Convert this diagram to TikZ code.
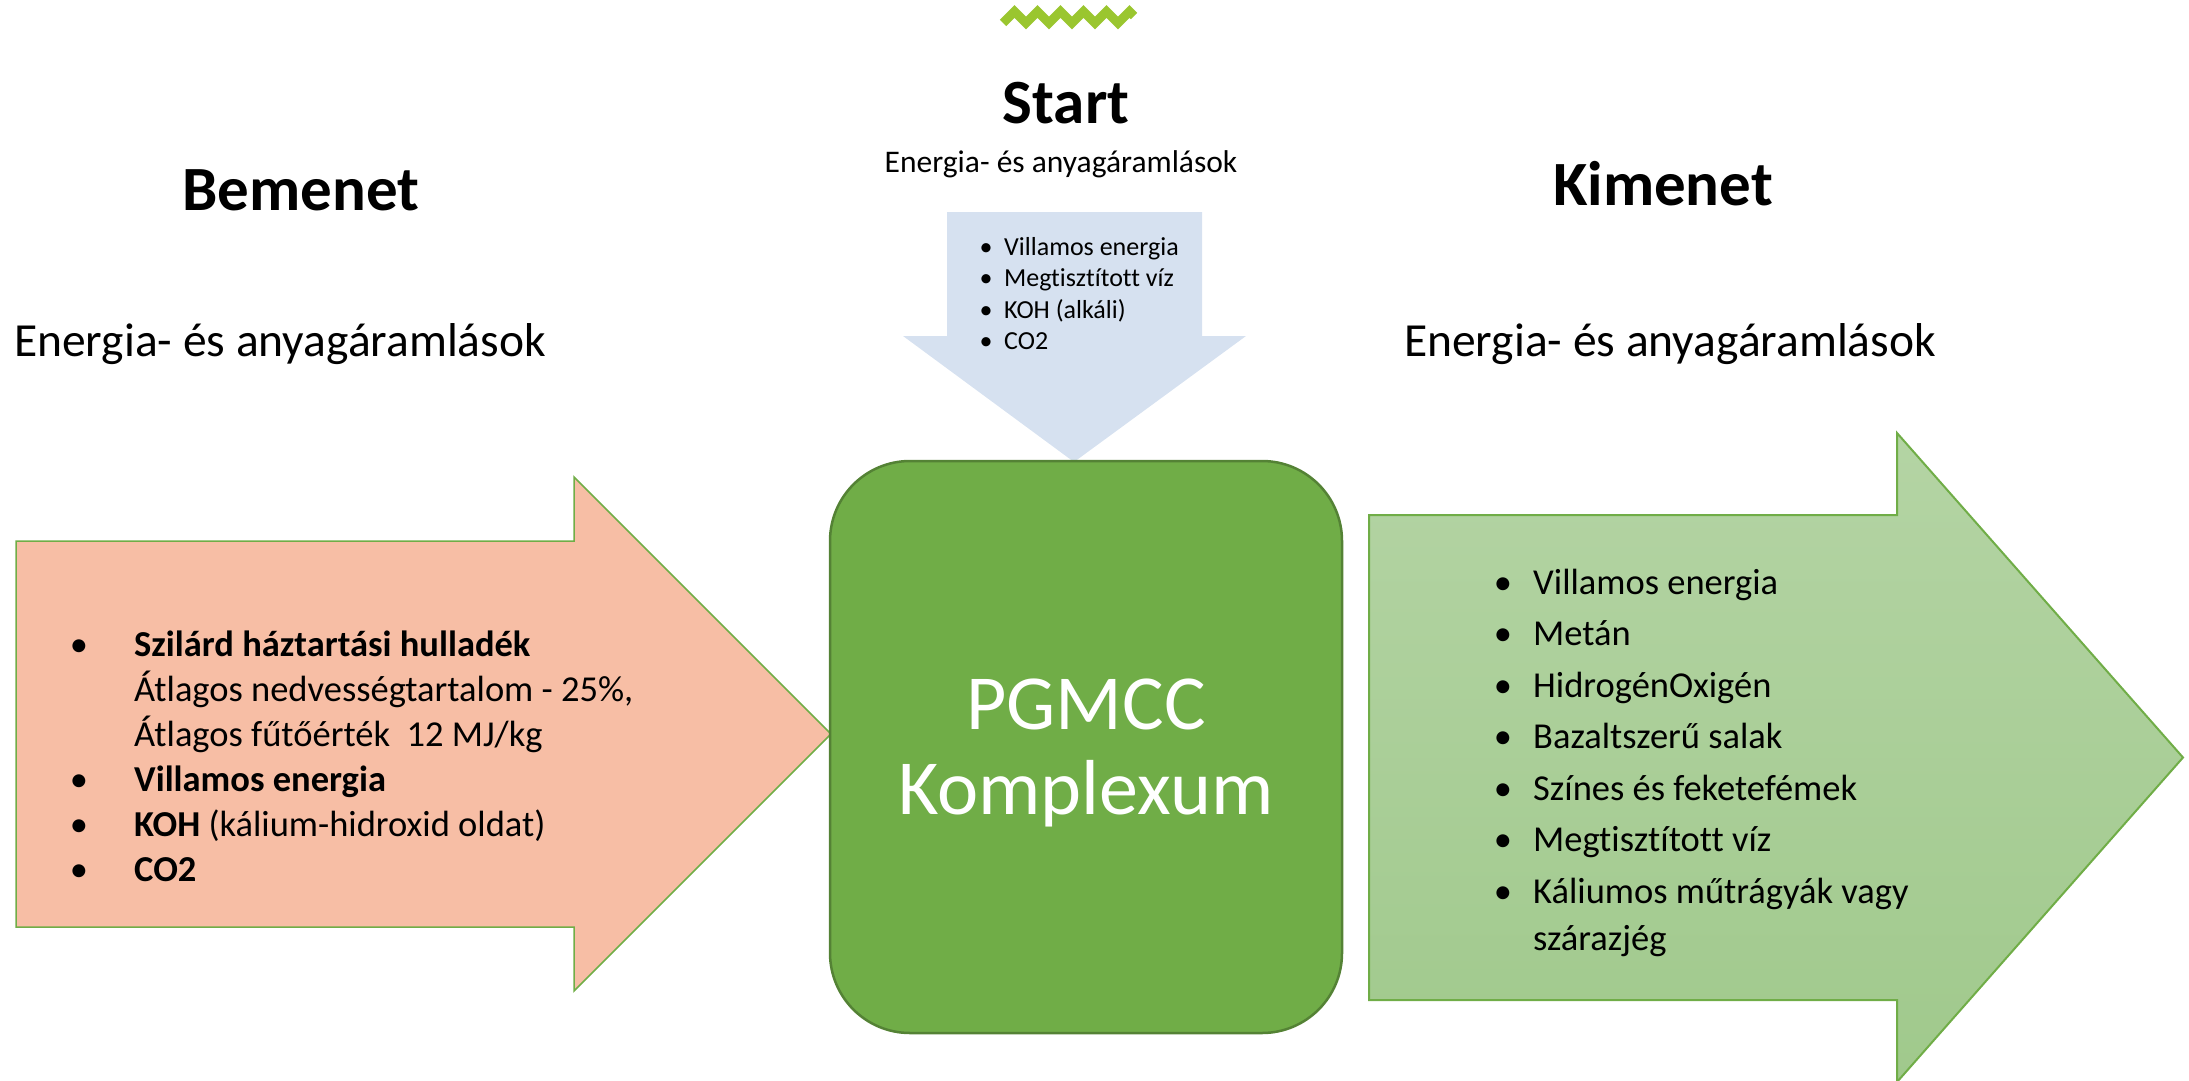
\documentclass[tikz,border=0pt]{standalone}
\usepackage{fontspec}
\setmainfont{Carlito}[Ligatures={NoCommon}]
\definecolor{salmon}{RGB}{247,190,165}
\definecolor{arrowedge}{RGB}{112,173,71}
\definecolor{boxfill}{RGB}{112,173,71}
\definecolor{boxedge}{RGB}{84,130,53}
\definecolor{outtop}{RGB}{180,212,164}
\definecolor{outbottom}{RGB}{160,201,140}
\definecolor{inblue}{RGB}{214,225,240}
\definecolor{zigzag}{RGB}{154,198,47}
\begin{document}
\begin{tikzpicture}[x=1pt,y=-1pt,
  heading/.style={font=\fontsize{63}{76}\selectfont\bfseries, anchor=base, inner sep=0},
  flowbig/.style={font=\fontsize{47.5}{57}\selectfont, anchor=base west, inner sep=0},
  flowsmall/.style={font=\fontsize{31.5}{38}\selectfont, anchor=base, inner sep=0},
  listtxt/.style={font=\fontsize{36.5}{44}\selectfont, anchor=base west, inner sep=0},
  bul/.style={font=\fontsize{36.5}{44}\selectfont, anchor=base, inner sep=0},
  toptxt/.style={font=\fontsize{26}{32}\selectfont, anchor=base west, inner sep=0},
  topbul/.style={font=\fontsize{26}{32}\selectfont, anchor=base, inner sep=0},
  boxtxt/.style={font=\fontsize{78}{94}\selectfont, text=white, anchor=base, inner sep=0}]
\useasboundingbox (0,0) rectangle (2189,1081);

% decorative zigzag band
\draw[zigzag, line width=9, line join=miter, line cap=butt]
  (1003,23) -- (1014.5,11.5) -- (1026,23) -- (1037.5,11.5) -- (1049,23)
  -- (1060.5,11.5) -- (1072,23) -- (1083.5,11.5) -- (1095,23) -- (1106.5,11.5)
  -- (1118,23) -- (1129.5,11.5) -- (1134,16);

% headings
\node[heading] (start) at (1066,123) {Start};
\node[flowsmall] (startsub) at (1061,172) {Energia- és anyagáramlások};
\node[heading] (bemenet) at (301,210) {Bemenet};
\node[heading] (kimenet) at (1663,205) {Kimenet};
\node[flowbig] (insub) at (14,356) {Energia- és anyagáramlások};
\node[flowbig] (outsub) at (1404,356) {Energia- és anyagáramlások};

% input arrow (left)
\path[fill=salmon, draw=arrowedge, line width=1.5]
  (16,541) -- (574,541) -- (574,477) -- (831,734) -- (574,991) -- (574,927) -- (16,927) -- cycle;

% output arrow (right)
\path[top color=outtop, bottom color=outbottom, draw=arrowedge, line width=2]
  (1369,515) -- (1897,515) -- (1897,433) -- (2183,757.5) -- (1897,1082) -- (1897,1000) -- (1369,1000) -- cycle;

% start arrow (top)
\path[fill=inblue]
  (947,212) -- (1202,212) -- (1202,336) -- (1246,336) -- (1074,462) -- (903,336) -- (947,336) -- cycle;

% central block
\node[draw=boxedge, fill=boxfill, line width=2.5, rounded corners=80,
      minimum width=512, minimum height=572, inner sep=0] (core) at (1086,747) {};
\node[boxtxt] (core1) at (1086,729) {PGMCC};
\node[boxtxt] (core2) at (1086,814) {Komplexum};

% start list
\foreach \txt [count=\i] in {Villamos energia, Megtisztított víz, KOH (alkáli), CO2} {
  \node[topbul] (tb\i) at (986,{255+31.5*(\i-1)}) {•};
  \node[toptxt] (tt\i) at (1004,{255+31.5*(\i-1)}) {\txt};
}

% input list
\node[bul] (ib1) at (79,656) {•};
\node[listtxt] (it1) at (134,656) {\textbf{Szilárd háztartási hulladék}};
\node[listtxt] (it2) at (134,701) {Átlagos nedvességtartalom - 25\%,};
\node[listtxt] (it3) at (134,746) {Átlagos fűtőérték\ \ 12 MJ/kg};
\node[bul] (ib4) at (79,791) {•};
\node[listtxt] (it4) at (134,791) {\textbf{Villamos energia}};
\node[bul] (ib5) at (79,836) {•};
\node[listtxt] (it5) at (134,836) {\textbf{KOH} (kálium-hidroxid oldat)};
\node[bul] (ib6) at (79,881) {•};
\node[listtxt] (it6) at (134,881) {\textbf{CO2}};

% output list
\foreach \txt [count=\i] in {Villamos energia, Metán, HidrogénOxigén, Bazaltszerű salak,
    Színes és feketefémek, Megtisztított víz, Káliumos műtrágyák vagy} {
  \node[bul] (ob\i) at (1503,{594+51.5*(\i-1)}) {•};
  \node[listtxt] (ot\i) at (1533,{594+51.5*(\i-1)}) {\txt};
}
\node[listtxt] (ot8) at (1533,950) {szárazjég};
\end{tikzpicture}
\end{document}
